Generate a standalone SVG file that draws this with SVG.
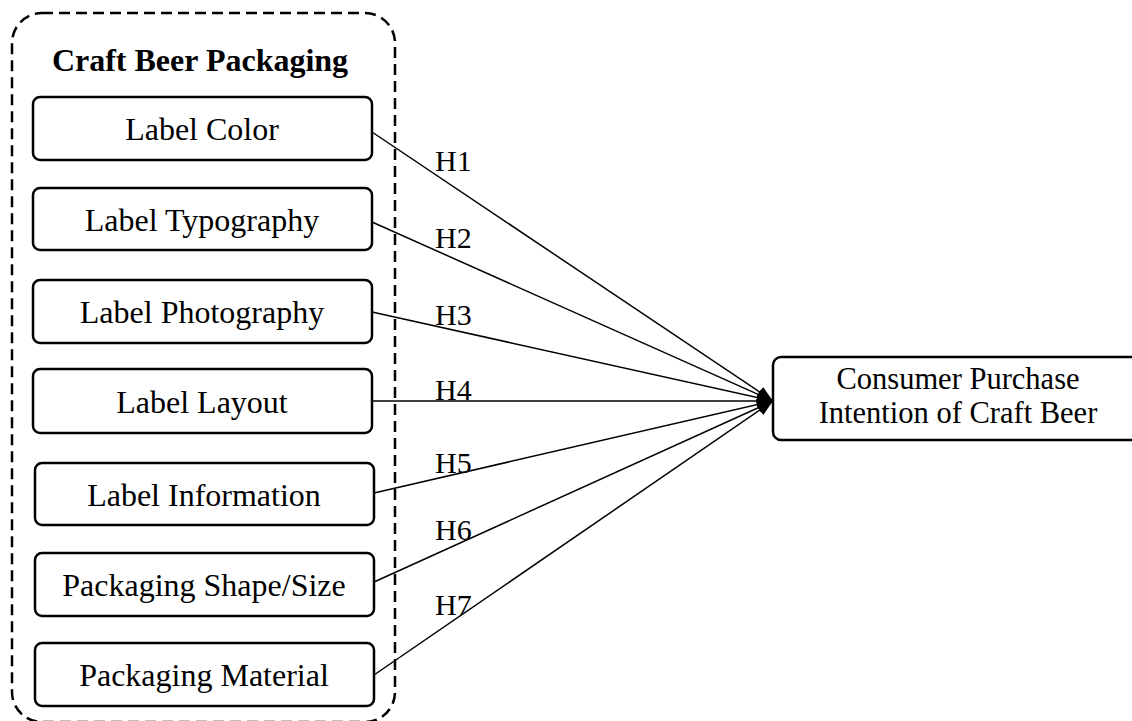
<svg xmlns="http://www.w3.org/2000/svg" width="1132" height="721" viewBox="0 0 1132 721">
<style>
.box{fill:#fff;stroke:#000;stroke-width:2.5}
.t{font-family:"Liberation Serif","Times New Roman",serif;font-size:32px;fill:#000;text-anchor:middle}
.h{font-family:"Liberation Serif","Times New Roman",serif;font-size:30px;fill:#000}
.c{stroke:#000;stroke-width:1.5;fill:none;marker-end:url(#ah)}
</style>
<defs>
<marker id="ah" markerUnits="userSpaceOnUse" markerWidth="18" markerHeight="14" refX="16" refY="6" orient="auto">
<path d="M0,0 L16,6 L0,12 Z" fill="#000"/>
</marker>
</defs>
<rect width="1132" height="721" fill="#fff"/>
<g id="container">
<rect x="12" y="13" width="383" height="709" rx="30" ry="30" fill="none" stroke="#000" stroke-width="2.5" stroke-dasharray="11,6"/>
<text class="t" x="200" y="71" font-weight="bold">Craft Beer Packaging</text>
</g>
<g id="connectors">
<line class="c" x1="372" y1="132" x2="773" y2="401"/>
<line class="c" x1="372" y1="222" x2="773" y2="401"/>
<line class="c" x1="372" y1="312" x2="773" y2="401"/>
<line class="c" x1="372" y1="401" x2="773" y2="401"/>
<line class="c" x1="374" y1="493" x2="773" y2="401"/>
<line class="c" x1="374" y1="582" x2="773" y2="401"/>
<line class="c" x1="374" y1="675" x2="773" y2="401"/>
<text class="h" x="435" y="171">H1</text>
<text class="h" x="435" y="248">H2</text>
<text class="h" x="435" y="325">H3</text>
<text class="h" x="435" y="400">H4</text>
<text class="h" x="435" y="473">H5</text>
<text class="h" x="435" y="540">H6</text>
<text class="h" x="435" y="615">H7</text>
</g>
<g id="n1"><rect class="box" x="33" y="97" width="339" height="63" rx="7"/><text class="t" x="202" y="140">Label Color</text></g>
<g id="n2"><rect class="box" x="33" y="188" width="339" height="62" rx="7"/><text class="t" x="202" y="231">Label Typography</text></g>
<g id="n3"><rect class="box" x="33" y="280" width="339" height="63" rx="7"/><text class="t" x="202" y="323">Label Photography</text></g>
<g id="n4"><rect class="box" x="33" y="369" width="339" height="64" rx="7"/><text class="t" x="202" y="413">Label Layout</text></g>
<g id="n5"><rect class="box" x="35" y="463" width="339" height="62" rx="7"/><text class="t" x="204" y="506">Label Information</text></g>
<g id="n6"><rect class="box" x="35" y="553" width="339" height="63" rx="7"/><text class="t" x="204" y="596">Packaging Shape/Size</text></g>
<g id="n7"><rect class="box" x="35" y="643" width="339" height="63" rx="7"/><text class="t" x="204" y="686">Packaging Material</text></g>
<g id="target"><rect class="box" x="773" y="357" width="380" height="83" rx="8"/><text class="t" x="958" y="389" style="font-size:30.5px">Consumer Purchase</text><text class="t" x="958" y="423" style="font-size:30.5px">Intention of Craft Beer</text></g>
</svg>
